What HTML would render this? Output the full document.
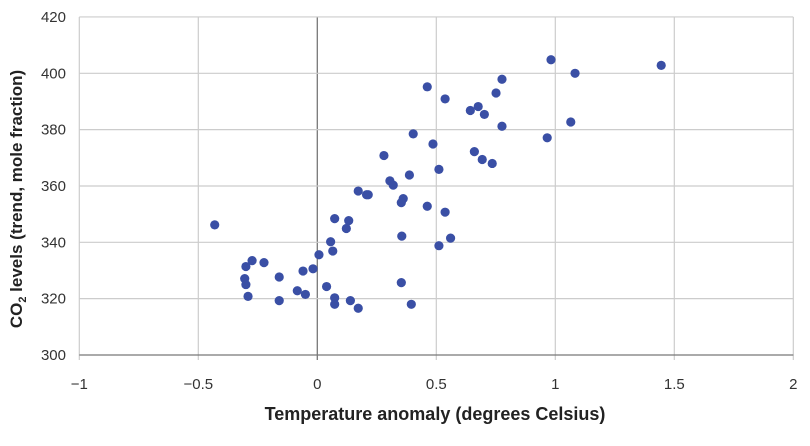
<!DOCTYPE html>
<html><head><meta charset="utf-8"><style>
body{margin:0;background:#fff;}
svg text{font-family:"Liberation Sans",sans-serif;}
</style></head><body>
<svg width="810" height="441">
<g id="grid"></g><g id="ticks"></g><g id="pts"></g>
<text x="435" y="420" text-anchor="middle" font-size="18" font-weight="bold" fill="#222">Temperature anomaly (degrees Celsius)</text>
<text transform="translate(22,199) rotate(-90)" text-anchor="middle" font-size="17" font-weight="bold" fill="#222">CO<tspan font-size="11" dy="4">2</tspan><tspan dy="-4"> levels (trend, mole fraction)</tspan></text>
</svg>
<script>
const xTicks=[-1,-0.5,0,0.5,1,1.5,2];
const xTickLabels=["\u22121","\u22120.5","0","0.5","1","1.5","2"];
const yTicks=[300,320,340,360,380,400,420];
const tempAnomaly=[0.982,1.445,1.083,0.776,0.462,0.751,0.537,0.643,0.676,0.702,0.776,1.065,0.966,0.403,0.486,0.280,0.660,0.693,0.735,0.511,0.387,0.305,0.319,0.361,0.353,0.462,0.537,0.355,0.560,0.511,
-0.431,0.172,0.207,0.214,0.073,0.132,0.122,0.056,0.065,0.007,-0.274,-0.300,-0.224,-0.018,-0.060,-0.160,-0.305,-0.300,0.039,-0.291,-0.084,-0.050,-0.160,0.073,0.073,0.139,0.172,0.353,0.395];
const co2Level=[404.8,402.8,400,397.9,395.2,393,390.9,386.8,388.2,385.4,381.2,382.7,377.1,378.5,374.9,370.8,372.2,369.4,368,365.9,363.9,361.8,360.3,355.5,354.1,352.8,350.7,342.2,341.5,338.8,
346.2,358.2,356.9,356.9,348.4,347.7,344.9,340.2,336.9,335.6,333.5,331.4,332.8,330.6,329.8,327.7,327.1,325,324.3,320.8,322.8,321.5,319.3,320.3,318,319.3,316.6,325.7,318];
const X=v=>79.3+(v+1)*238;
const Y=v=>355-(v-300)*2.817;
const ns="http://www.w3.org/2000/svg";
function mk(t,a,p){const e=document.createElementNS(ns,t);for(const k in a)e.setAttribute(k,a[k]);p.appendChild(e);return e;}
const grid=document.getElementById('grid'),ticks=document.getElementById('ticks'),pts=document.getElementById('pts');
xTicks.forEach((v,i)=>{
 const l=mk('line',{x1:X(v),x2:X(v),y1:Y(420),y2:Y(300)+5,stroke:v==0?'#777':'#ccc','stroke-width':v==0?1.3:1.2},grid);
 
 
 const t=mk('text',{x:X(v),y:389,'text-anchor':'middle','font-size':15,fill:'#333'},ticks);
 t.textContent=xTickLabels[i];
 
 
});
yTicks.forEach(v=>{
 const l=mk('line',{x1:X(-1),x2:X(2),y1:Y(v),y2:Y(v),stroke:v==300?'#777':'#ccc','stroke-width':1.2},grid);
 
 
 const t=mk('text',{x:66,y:Y(v)+5,'text-anchor':'end','font-size':15,fill:'#333'},ticks);
 t.textContent=v;
 
 
});
tempAnomaly.forEach((v,i)=>{
 const c=mk('circle',{cx:X(v),cy:Y(co2Level[i]),r:4.6,fill:'#3a4fa5'},pts);
 
 
});
</script>
</body></html>
